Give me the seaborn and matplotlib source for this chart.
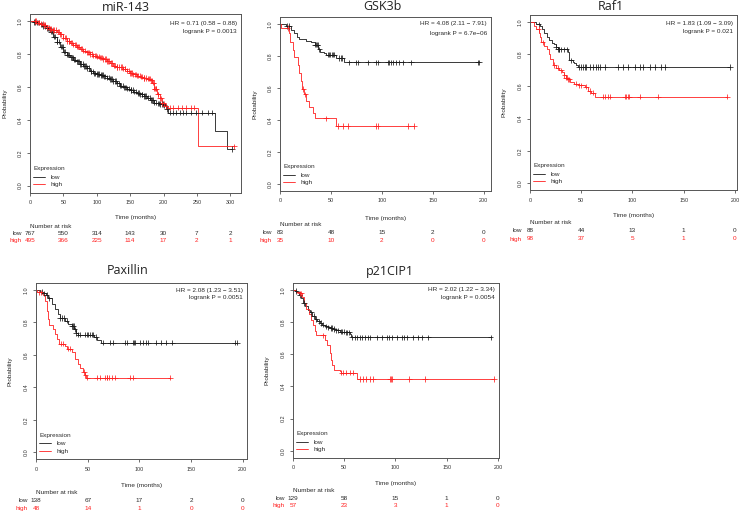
import numpy as np
import pandas as pd
import matplotlib
matplotlib.use("Agg")
import matplotlib.pyplot as plt
import matplotlib.transforms as mtransforms
from matplotlib.lines import Line2D
import seaborn as sns

# ---------------- data ----------------
titles = ["miR-143", "GSK3b", "Raf1", "Paxillin", "p21CIP1"]
hr_texts = [
    ("HR = 0.71 (0.58 \u2212 0.88)", "logrank P = 0.0013"),
    ("HR = 4.08 (2.11 \u2212 7.91)", "logrank P = 6.7e\u221206"),
    ("HR = 1.83 (1.09 \u2212 3.09)", "logrank P = 0.021"),
    ("HR = 2.08 (1.23 \u2212 3.51)", "logrank P = 0.0051"),
    ("HR = 2.02 (1.22 \u2212 3.34)", "logrank P = 0.0054"),
]

# miR-143
p1_low_t = [0, 5, 10, 15, 20, 25, 30, 35, 40, 45, 50, 55, 60, 65, 70, 75, 80, 85, 90, 95, 100, 105, 110, 115,
            120, 125, 130, 135, 140, 145, 150, 155, 160, 165, 170, 175, 180, 185, 190, 195, 200, 204, 207,
            277.5, 295, 303]
p1_low_s = [1.0, 0.995, 0.99, 0.98, 0.97, 0.955, 0.935, 0.905, 0.875, 0.845, 0.815, 0.795, 0.78, 0.765, 0.755,
            0.74, 0.728, 0.715, 0.695, 0.682, 0.678, 0.672, 0.665, 0.657, 0.648, 0.635, 0.622, 0.608, 0.597,
            0.59, 0.58, 0.572, 0.563, 0.555, 0.545, 0.535, 0.52, 0.505, 0.5, 0.495, 0.488, 0.465, 0.444,
            0.331, 0.222, 0.222]
p1_high_t = [0, 5, 10, 15, 20, 25, 30, 35, 40, 45, 50, 55, 60, 65, 70, 75, 80, 85, 90, 95, 100, 105, 110, 115,
             120, 125, 130, 135, 140, 145, 150, 155, 160, 165, 170, 175, 180, 183, 186, 190, 194, 198, 202,
             206, 251, 306]
p1_high_s = [1.0, 1.0, 0.99, 0.985, 0.975, 0.962, 0.952, 0.945, 0.935, 0.92, 0.9, 0.88, 0.868, 0.857, 0.845,
             0.832, 0.82, 0.81, 0.8, 0.79, 0.783, 0.778, 0.77, 0.758, 0.745, 0.73, 0.722, 0.72, 0.71, 0.698,
             0.685, 0.677, 0.668, 0.663, 0.655, 0.65, 0.64, 0.625, 0.59, 0.555, 0.53, 0.5, 0.485, 0.474,
             0.239, 0.239]
p1_low_c = [6, 8, 11, 13, 16, 18, 20, 22, 25, 27, 29, 31, 33, 34, 36, 38, 40, 41, 43, 46, 48, 49, 51, 53, 55,
            57, 59, 61, 63, 64, 66, 68, 70, 72, 73, 75, 77, 79, 81, 83, 84, 86, 88, 91, 92, 94, 96, 98, 100,
            102, 104, 106, 108, 109, 111, 113, 115, 118, 120, 121, 123, 125, 127, 129, 131, 133, 135, 137,
            139, 141, 142, 144, 146, 149, 151, 152, 154, 156, 158, 161, 163, 165, 167, 168, 170, 172, 174,
            177, 179, 181, 183, 184, 186, 188, 191, 193, 195, 197, 199, 201, 205, 209, 214, 219, 224, 229,
            234, 241, 249, 258, 266, 273, 303]
p1_high_c = [7, 9, 12, 14, 17, 19, 21, 23, 26, 28, 30, 32, 35, 36, 39, 42, 43, 45, 47, 50, 52, 54, 56, 58,
             59, 62, 63, 65, 67, 69, 71, 72, 74, 76, 78, 80, 82, 85, 87, 89, 90, 93, 95, 97, 99, 101, 103, 105,
             107, 108, 110, 112, 114, 116, 117, 119, 122, 123, 126, 127, 130, 131, 134, 136, 138, 140, 142,
             143, 146, 148, 150, 151, 153, 155, 157, 158, 160, 162, 164, 166, 168, 170, 171, 174, 176, 178,
             179, 181, 182, 184, 185, 186, 187, 188, 189, 191, 192, 194, 196, 198, 200, 203, 209, 214, 221,
             228, 234, 241, 246, 306]

# GSK3b
p2_low_t = [0, 6, 11, 14, 17, 19, 25.5, 30, 34, 37.6, 39.5, 43, 45, 55, 62.4, 195.4]
p2_low_s = [1.0, 0.987, 0.963, 0.942, 0.921, 0.905, 0.89, 0.884, 0.87, 0.84, 0.824, 0.818, 0.807, 0.787,
            0.76, 0.76]
p2_high_t = [0, 0.5, 9, 10, 12.4, 14, 17.3, 18.3, 20.6, 21.6, 24, 25.5, 28.5, 32, 34.3, 55, 131.7]
p2_high_s = [1.0, 0.975, 0.942, 0.884, 0.838, 0.79, 0.745, 0.69, 0.642, 0.594, 0.559, 0.515, 0.48, 0.44,
             0.41, 0.362, 0.362]
p2_low_c = [6.9, 9.2, 34.3, 35.3, 36.3, 36.9, 38.6, 46.7, 48.4, 49.3, 50.6, 51.6, 53.3, 58.2, 59.8, 60.8, 68,
            74.5, 76.1, 86, 94, 95.8, 105.5, 107.2, 108.8, 110.5, 113.7, 116.3, 120.3, 128.4, 193.8, 195.4]
p2_high_c = [7.5, 23, 25, 45, 57, 61.4, 66.3, 94, 95.8, 126, 131.7]

# Raf1
p3_low_t = [0, 5.9, 7.5, 9.8, 11.7, 14, 16.3, 19, 21.5, 23.8, 25.4, 27, 36.9, 37.8, 38.5, 41.8, 43.4, 45,
            46.7, 195.1]
p3_low_s = [1.0, 0.99, 0.985, 0.973, 0.955, 0.93, 0.907, 0.887, 0.871, 0.86, 0.846, 0.829, 0.813, 0.784,
            0.761, 0.751, 0.743, 0.73, 0.72, 0.72]
p3_high_t = [0, 4.2, 5.9, 9.1, 10, 11, 14, 16.3, 18.3, 20, 22.2, 25.4, 28.7, 31.3, 33.6, 35.2, 36.9, 39.5,
             43.4, 47.6, 53.2, 56.4, 59.7, 63, 192.5]
p3_high_s = [1.0, 0.975, 0.957, 0.932, 0.907, 0.874, 0.85, 0.829, 0.798, 0.767, 0.733, 0.716, 0.7, 0.689,
             0.669, 0.654, 0.644, 0.628, 0.617, 0.607, 0.599, 0.572, 0.562, 0.537, 0.537]
p3_low_c = [8.5, 25.4, 27.1, 28.1, 28.7, 30.3, 33.6, 35.9, 40.1, 47.6, 49.9, 51.5, 53.2, 54.8, 58.1, 61.4,
            64.6, 66.2, 67.9, 72.8, 85.8, 90.7, 95.6, 102, 107, 110, 116.8, 121.7, 128.2, 131.5, 195.1]
p3_high_c = [8.5, 12.4, 23.8, 27.1, 30.3, 33.6, 35.2, 36.2, 37.5, 38.5, 45, 48.3, 49.9, 54.8, 58.1, 61.4,
             71.1, 72.8, 76, 77.6, 92.3, 94, 95.6, 96.6, 107, 125, 192.5]

# Paxillin
p4_low_t = [0, 3.9, 7, 9.3, 11.9, 15, 18.3, 21.5, 23, 28, 31.2, 34.4, 36.7, 38.6, 40.8, 56, 58.5, 63.3, 194.2]
p4_low_s = [1.0, 0.99, 0.98, 0.969, 0.949, 0.914, 0.883, 0.853, 0.828, 0.812, 0.791, 0.777, 0.757, 0.736,
            0.724, 0.71, 0.693, 0.675, 0.675]
p4_high_t = [0, 1.3, 7, 8.7, 10.3, 11.9, 12.9, 16, 18.3, 20.6, 22.5, 28, 29.6, 34.4, 37.6, 40.8, 42.4, 45.7,
             47.3, 48.2, 129.9]
p4_high_s = [1.0, 0.986, 0.969, 0.935, 0.873, 0.822, 0.787, 0.761, 0.726, 0.695, 0.669, 0.658, 0.638, 0.617,
             0.573, 0.546, 0.519, 0.495, 0.474, 0.46, 0.46]
p4_low_c = [5.5, 7.7, 10.3, 12.9, 23.2, 24.8, 27, 29.6, 34.4, 35.4, 36.3, 37.3, 38.6, 40.8, 42.4, 47.2, 48.9,
            50.5, 52.1, 53.7, 54.7, 57.9, 64.9, 71.4, 74.6, 85.9, 87.5, 93.9, 94.9, 95.8, 100.3, 103.5, 106.8,
            108.4, 116.4, 121.2, 125.4, 131.8, 192, 194.2]
p4_high_c = [3.2, 4.5, 24.1, 26.4, 31.2, 32.8, 46.3, 47.6, 49.5, 58.5, 61.7, 66.6, 68.2, 68.8, 70.7, 73, 76.2,
             90.7, 93.9, 129.9]

# p21CIP1
p5_low_t = [0, 1.6, 4.2, 5.9, 8.2, 9.8, 11.4, 14.7, 16.3, 18.6, 21.2, 23.8, 26.1, 28.4, 31, 34.2, 36.8, 39.1,
            42.4, 45.6, 50.5, 55.4, 56.4, 193]
p5_low_s = [1.0, 0.994, 0.984, 0.969, 0.948, 0.918, 0.897, 0.876, 0.86, 0.839, 0.819, 0.804, 0.794, 0.784,
            0.773, 0.767, 0.763, 0.757, 0.748, 0.74, 0.736, 0.726, 0.705, 0.705]
p5_high_t = [0, 3.3, 6.5, 8.8, 10.8, 13, 15.7, 17.9, 19.6, 21.2, 22.8, 31, 33.6, 35.9, 36.8, 38.1, 40.1, 45.6,
             47.3, 62, 196.3]
p5_high_s = [1.0, 0.99, 0.979, 0.959, 0.918, 0.88, 0.852, 0.814, 0.784, 0.742, 0.718, 0.691, 0.66, 0.608,
             0.567, 0.536, 0.505, 0.495, 0.485, 0.447, 0.447]
p5_low_c = [3.3, 6.5, 10.8, 17.9, 20.2, 22.8, 25.1, 27.1, 29.3, 32.6, 34.2, 36.8, 38.1, 40.1, 42.4, 44, 46.6,
            47.9, 49.9, 51.5, 53.1, 54.5, 57.7, 60.3, 62.9, 65.2, 67.5, 70.1, 72.7, 75, 81.5, 86.4, 91.3,
            93.6, 96.2, 101.1, 106, 108.6, 110.9, 117.4, 122.3, 125.5, 132, 193]
p5_high_c = [6.5, 8.2, 29.3, 47.3, 48.9, 52.2, 55.4, 58.7, 65.2, 68.5, 71.7, 75, 78.3, 94.6, 95.5, 96.2,
             113.5, 128.8, 196.3]

# numbers at risk
p1_ticks = [0, 50, 100, 150, 200, 250, 300]
p1_risk_low = [767, 550, 314, 143, 30, 7, 2]
p1_risk_high = [495, 366, 225, 114, 17, 2, 1]
p2_ticks = [0, 50, 100, 150, 200]
p2_risk_low = [83, 48, 15, 2, 0]
p2_risk_high = [35, 10, 2, 0, 0]
p3_risk_low = [88, 44, 13, 1, 0]
p3_risk_high = [98, 37, 5, 1, 0]
p4_risk_low = [138, 67, 17, 2, 0]
p4_risk_high = [48, 14, 1, 0, 0]
p5_risk_low = [129, 58, 15, 1, 0]
p5_risk_high = [57, 23, 3, 1, 0]

# ---------------- style ----------------
W, H = 741, 513
sns.set_style("white", {"axes.edgecolor": "#555555", "xtick.bottom": True, "ytick.left": True})
plt.rcParams["font.family"] = ["Liberation Sans", "DejaVu Sans"]
plt.rcParams["axes.linewidth"] = 0.7
for a in ("x", "y"):
    plt.rcParams[f"{a}tick.major.size"] = 2.2
    plt.rcParams[f"{a}tick.major.width"] = 0.5
    plt.rcParams[f"{a}tick.color"] = "#333333"
    plt.rcParams[f"{a}tick.labelsize"] = 3.9

COL = {"low": "#1a1a1a", "high": "#ff2020"}
TXT = "#2a2a2a"
FS = 4.6

panels = [
    dict(low=(p1_low_t, p1_low_s, p1_low_c), high=(p1_high_t, p1_high_s, p1_high_c),
         ticks=p1_ticks, rl=p1_risk_low, rh=p1_risk_high,
         box=(30, 14, 241, 192.7), xmax=316, title=(125.7, 7.5), ylab=5,
         tme=218, nar=226.7, rows=(233.3, 240.5), hr=(23.3, 31.7)),
    dict(low=(p2_low_t, p2_low_s, p2_low_c), high=(p2_high_t, p2_high_s, p2_high_c),
         ticks=p2_ticks, rl=p2_risk_low, rh=p2_risk_high,
         box=(280, 17, 491, 190.7), xmax=207, title=(382, 6.5), ylab=255,
         tme=218.3, nar=225, rows=(232.7, 240.3), hr=(24, 33)),
    dict(low=(p3_low_t, p3_low_s, p3_low_c), high=(p3_high_t, p3_high_s, p3_high_c),
         ticks=p2_ticks, rl=p3_risk_low, rh=p3_risk_high,
         box=(530, 15, 737, 190), xmax=202, title=(611, 6.5), ylab=504,
         tme=216, nar=222.5, rows=(231, 239), hr=(24, 31.7)),
    dict(low=(p4_low_t, p4_low_s, p4_low_c), high=(p4_high_t, p4_high_s, p4_high_c),
         ticks=p2_ticks, rl=p4_risk_low, rh=p4_risk_high,
         box=(36, 283, 247, 459.3), xmax=204, title=(128, 270), ylab=10,
         tme=485, nar=492.7, rows=(500.5, 508.5), hr=(290.7, 298)),
    dict(low=(p5_low_t, p5_low_s, p5_low_c), high=(p5_high_t, p5_high_s, p5_high_c),
         ticks=p2_ticks, rl=p5_risk_low, rh=p5_risk_high,
         box=(293, 283, 499, 457.7), xmax=201, title=(390, 271.5), ylab=267,
         tme=483.5, nar=491, rows=(498.5, 505.7), hr=(289.3, 297.3)),
]


def step_at(times, surv, t):
    idx = np.searchsorted(np.asarray(times), np.asarray(t), side="right") - 1
    return np.asarray(surv)[idx]


fig = plt.figure(figsize=(W / 100, H / 100), dpi=100)

for i, p in enumerate(panels):
    L, T, R, B = p["box"]
    ax = fig.add_axes([L / W, 1 - B / H, (R - L) / W, (B - T) / H])
    ax.set_xlim(0, p["xmax"])
    ax.set_ylim(-0.043, 1.043)

    curves = []
    marks = []
    for g in ("low", "high"):
        t, s, c = p[g]
        curves.append(pd.DataFrame({"time": t, "surv": s, "group": g}))
        marks.append(pd.DataFrame({"time": c, "surv": step_at(t, s, c), "group": g}))
    cdf = pd.concat(curves, ignore_index=True)
    mdf = pd.concat(marks, ignore_index=True)

    for g in ("low", "high"):
        sns.lineplot(data=cdf[cdf.group == g], x="time", y="surv", color=COL[g], estimator=None,
                     sort=False, drawstyle="steps-post", linewidth=0.6, ax=ax, legend=False)
    sns.scatterplot(data=mdf, x="time", y="surv", hue="group", palette=COL, marker="+", s=15,
                    linewidth=0.55, ax=ax, legend=False, zorder=3)

    ax.set_xlabel("")
    ax.set_ylabel("")
    ax.set_xticks(p["ticks"])
    ax.set_yticks([0.0, 0.2, 0.4, 0.6, 0.8, 1.0])
    ax.set_yticklabels(["0.0", "0.2", "0.4", "0.6", "0.8", "1.0"])
    ax.tick_params(axis="x", pad=3.2)
    ax.tick_params(axis="y", pad=3.0, labelrotation=90)
    for lab in ax.get_yticklabels():
        lab.set_va("center")
    for sp in ax.spines.values():
        sp.set_visible(True)
        sp.set_color("#555555")
        sp.set_linewidth(0.7)

    hgt = B - T
    # HR text
    ax.text(1 - 4 / (R - L), (B - p["hr"][0]) / hgt, hr_texts[i][0], transform=ax.transAxes,
            ha="right", va="center", fontsize=FS, color=TXT)
    ax.text(1 - 4 / (R - L), (B - p["hr"][1]) / hgt, hr_texts[i][1], transform=ax.transAxes,
            ha="right", va="center", fontsize=FS, color=TXT)

    # legend
    handles = [Line2D([], [], color=COL["low"], lw=0.6), Line2D([], [], color=COL["high"], lw=0.6)]
    leg = ax.legend(handles, ["low", "high"], title="Expression", loc="lower left", frameon=False,
                    fontsize=FS, title_fontsize=FS, alignment="left", handlelength=1.9,
                    handletextpad=0.9, labelspacing=0.3, borderaxespad=0.0, borderpad=0.35,
                    bbox_to_anchor=(0.8 / (R - L), 3.3 / hgt))
    leg._legend_box.sep = 2.25
    for txt in leg.get_texts():
        txt.set_color(TXT)
    leg.get_title().set_color(TXT)

    # axis labels
    ax.text(0.5, (B - p["tme"]) / hgt, "Time (months)", transform=ax.transAxes, ha="center",
            va="center", fontsize=FS, color=TXT)
    fig.text(p["ylab"] / W, 1 - ((T + B) / 2) / H, "Probability", rotation=90, ha="center",
             va="center", fontsize=FS, color=TXT)

    # title
    fig.text(p["title"][0] / W, 1 - p["title"][1] / H, titles[i], ha="center", va="center",
             fontsize=9, family=["Open Sans", "DejaVu Sans"], color="#222222")

    # numbers at risk
    tr = mtransforms.blended_transform_factory(ax.transData, ax.transAxes)
    ax.text(0, (B - p["nar"]) / hgt, "Number at risk", transform=tr, ha="left", va="center",
            fontsize=FS, color=TXT, clip_on=False)
    off = -8 * p["xmax"] / (R - L)
    for lab, vals, col, yy in (("low", p["rl"], TXT, p["rows"][0]),
                               ("high", p["rh"], "#ff2020", p["rows"][1])):
        ax.text(off, (B - yy) / hgt, lab, transform=tr, ha="right", va="center", fontsize=FS,
                color=col, clip_on=False)
        for xt, v in zip(p["ticks"], vals):
            ax.text(xt, (B - yy) / hgt, str(v), transform=tr, ha="center", va="center",
                    fontsize=FS, color=col, clip_on=False)

fig.savefig("out.png", dpi=100, facecolor="white")
